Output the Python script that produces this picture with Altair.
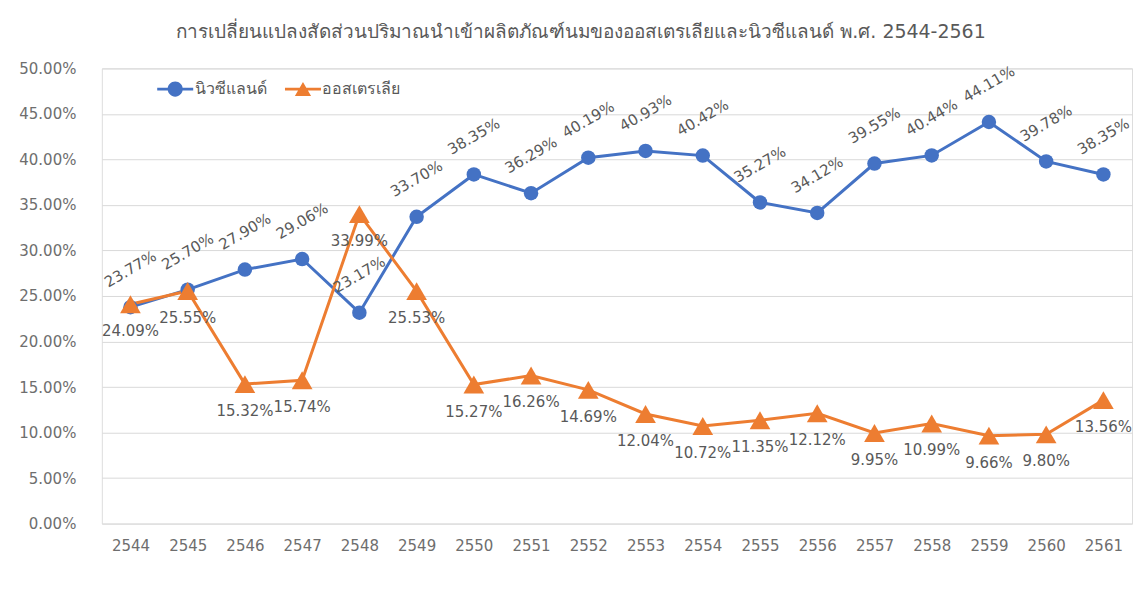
import altair as alt
import pandas as pd

years = ["2544", "2545", "2546", "2547", "2548", "2549", "2550", "2551", "2552",
         "2553", "2554", "2555", "2556", "2557", "2558", "2559", "2560", "2561"]
nz_pct = [23.77, 25.70, 27.90, 29.06, 23.17, 33.70, 38.35, 36.29, 40.19,
          40.93, 40.42, 35.27, 34.12, 39.55, 40.44, 44.11, 39.78, 38.35]
au_pct = [24.09, 25.55, 15.32, 15.74, 33.99, 25.53, 15.27, 16.26, 14.69,
          12.04, 10.72, 11.35, 12.12, 9.95, 10.99, 9.66, 9.80, 13.56]
series_names = ["นิวซีแลนด์", "ออสเตรเลีย"]
series_colors = ["#4472C4", "#ED7D31"]
y_ticks = [0.0, 0.05, 0.10, 0.15, 0.20, 0.25, 0.30, 0.35, 0.40, 0.45, 0.50]
title_text = "การเปลี่ยนแปลงสัดส่วนปริมาณนำเข้าผลิตภัณฑ์นมของออสเตรเลียและนิวซีแลนด์ พ.ศ. 2544-2561"

rows = []
for y, v in zip(years, nz_pct):
    rows.append({"year": y, "v": v / 100, "series": series_names[0]})
for y, v in zip(years, au_pct):
    rows.append({"year": y, "v": v / 100, "series": series_names[1]})
df = pd.DataFrame(rows)

FONT = "DejaVu Sans"
TXT = "#595959"

x = alt.X("year:O", sort=years, scale=alt.Scale(padding=0.5),
          axis=alt.Axis(title=None, labelAngle=0, domain=False, ticks=False,
                        domainColor="transparent",
                        labelPadding=15, labelFontSize=15, labelColor="#6e6e6e",
                        labelFont=FONT, grid=False))
y = alt.Y("v:Q", scale=alt.Scale(domain=[0, 0.5], nice=False),
          axis=alt.Axis(title=None, values=y_ticks, format=".2%", domain=False,
                        domainColor="transparent",
                        ticks=False, labelPadding=26, labelFontSize=15,
                        labelColor="#6e6e6e", labelFont=FONT, grid=True,
                        gridColor="#d9d9d9", gridWidth=1))
color_scale = alt.Scale(domain=series_names, range=series_colors)

# legend symbols: a short bar with the series marker on it (all filled)
bar = "M-1,-0.08L1,-0.08L1,0.08L-1,0.08Z"
circle_path = bar + "M0.42,0A0.42,0.42 0 1 1 -0.42,0A0.42,0.42 0 1 1 0.42,0Z"
tri_path = bar + "M0,-0.40L0.45,0.38L-0.45,0.38Z"
is_first = "datum.value === '%s'" % series_names[0]
shape_expr = "%s ? '%s' : '%s'" % (is_first, circle_path, tri_path)
color_expr = "%s ? '%s' : '%s'" % (is_first, series_colors[0], series_colors[1])

leg = alt.Legend(
    title=None, orient="none", legendX=55, legendY=2, padding=0,
    direction="horizontal", symbolSize=1300, symbolStrokeWidth=0,
    symbolType={"expr": shape_expr},
    symbolFillColor={"expr": color_expr},
    symbolStrokeColor={"expr": color_expr},
    symbolOpacity=1,
    labelFontSize=16, labelFont=FONT, labelColor=TXT, labelOffset=1,
    columnPadding=18,
)

base = alt.Chart(df)

lines = base.mark_line(strokeWidth=3).encode(
    x=x, y=y, color=alt.Color("series:N", scale=color_scale, legend=leg))

nz_pts = base.transform_filter(alt.datum.series == series_names[0]).mark_point(
    shape="circle", filled=True, size=210, opacity=1).encode(
    x=x, y=y, color=alt.Color("series:N", scale=color_scale, legend=leg))
au_pts = base.transform_filter(alt.datum.series == series_names[1]).mark_point(
    shape="triangle-up", filled=True, size=430, opacity=1).encode(
    x=x, y=y, color=alt.Color("series:N", scale=color_scale, legend=leg))

nz_lbl = base.transform_filter(alt.datum.series == series_names[0]).mark_text(
    angle=330, dx=19, dy=-33, align="center", baseline="middle",
    fontSize=15, font=FONT, color=TXT).encode(
    x=x, y=y, text=alt.Text("v:Q", format=".2%"))
au_lbl = base.transform_filter(alt.datum.series == series_names[1]).mark_text(
    dy=27, align="center", baseline="middle",
    fontSize=15, font=FONT, color=TXT).encode(
    x=x, y=y, text=alt.Text("v:Q", format=".2%"))

chart = alt.layer(lines, nz_pts, au_pts, nz_lbl, au_lbl).properties(
    width=1032, height=456,
    autosize=alt.AutoSizeParams(type="none"),
    padding={"left": 94, "top": 60, "right": 5, "bottom": 40},
    title=alt.TitleParams(title_text, fontSize=19, color=TXT, font=FONT,
                          fontWeight="normal", anchor="middle", dx=-36, offset=19),
).configure_view(stroke="transparent", strokeWidth=0).configure_axis(
    domain=False, domainColor="transparent").configure(background="white")

chart.save("out.html", embed_options={"renderer": "svg", "actions": False})
